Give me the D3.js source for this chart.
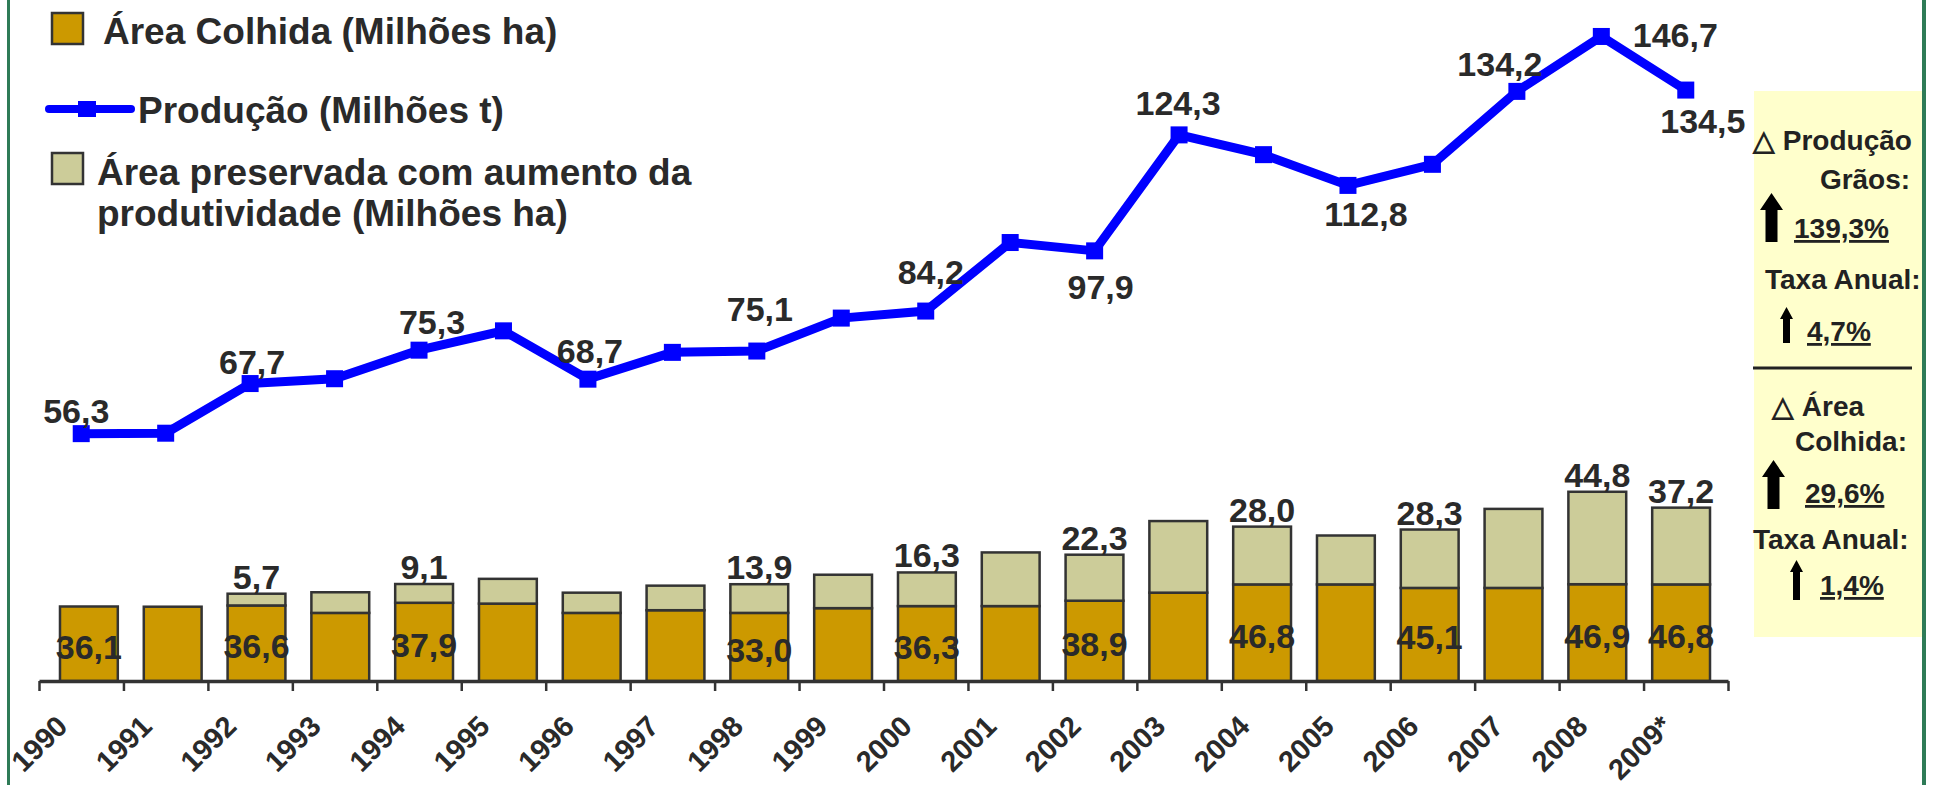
<!DOCTYPE html>
<html>
<head>
<meta charset="utf-8">
<script src="https://cdn.jsdelivr.net/npm/d3@7"></script>
<style>
  body { margin: 0; background: #fff; }
  svg { display: block; font-family: "Liberation Sans", Arial, sans-serif; font-weight: bold; }
</style>
</head>
<body>
<div id="chart"></div>
<script>
// valores
const years = ["1990", "1991", "1992", "1993", "1994", "1995", "1996", "1997", "1998", "1999",
    "2000", "2001", "2002", "2003", "2004", "2005", "2006", "2007", "2008", "2009*"];
const areaColhida = [36.1, 36.0, 36.6, 33.0, 37.9, 37.5, 33.0, 34.3, 33.0, 35.3,
    36.3, 36.3, 38.9, 42.8, 46.8, 46.8, 45.1, 45.1, 46.9, 46.8];
const areaPreservada = [0, 0, 5.7, 10.0, 9.1, 12.0, 9.8, 11.9, 13.9, 16.2,
    16.3, 26.0, 22.3, 34.7, 28.0, 23.7, 28.3, 38.3, 44.8, 37.2];
const producao = [56.3, 56.4, 67.7, 68.8, 75.3, 79.7, 68.7, 74.8, 75.1, 82.6,
    84.2, 99.8, 97.9, 124.3, 119.8, 112.8, 117.6, 134.2, 146.7, 134.5];

const legendLabels = ["Área Colhida (Milhões ha)", "Produção (Milhões t)",
    "Área preservada com aumento da", "produtividade (Milhões ha)"];

// quais pontos levam rótulo
const colhidaLabelIdx = [0, 2, 4, 8, 10, 12, 14, 16, 18, 19];
const preservadaLabelIdx = [2, 4, 8, 10, 12, 14, 16, 18, 19];
// deslocamento [dx, dy] dos rótulos da linha em relação ao ponto
const prodLabelOffset = {
    0: [-5, -11], 2: [2, -10], 4: [13, -16], 6: [2, -16], 8: [3, -30], 10: [5, -27],
    12: [6, 48], 13: [-1, -20], 15: [18, 41], 17: [-17, -15], 18: [74, 11], 19: [17, 43]
};

const width = 1948;
const height = 785;
const baseY = 681;
const textColor = "#2a2a2a";
const colhidaColor = "#cc9900";
const preservadaColor = "#cccc99";
const lineColor = "#0000ff";
const borderColor = "#2e7b57";

const locale = d3.formatLocale({ decimal: ",", thousands: ".", grouping: [3], currency: ["R$", ""] });
const fmt = locale.format(".1f");

const svg = d3.select("#chart")
    .append("svg")
    .attr("width", width)
    .attr("height", height);

// categorias (eixo e linha)
const x = d3.scaleBand()
    .domain(years)
    .range([39, 1728]);

// as barras ficam um pouco deslocadas em relação às marcas do eixo
const xBar = d3.scaleBand()
    .domain(years)
    .range([47, 1723])
    .paddingInner(0.31)
    .paddingOuter(0.155);

const xEdge = d3.scaleLinear()
    .domain([0, years.length])
    .range(x.range());

const yArea = d3.scaleLinear()
    .domain([0, 330])
    .range([baseY, 0]);

const yProd = d3.scaleLinear()
    .domain([0, 155])
    .range([baseY, 0]);

const cx = d => x(d) + x.bandwidth() / 2;
const bx = d => xBar(d) + xBar.bandwidth() / 2;

// barras empilhadas
const table = years.map((year, i) => ({ year: year, colhida: areaColhida[i], preservada: areaPreservada[i] }));
const stacked = d3.stack().keys(["colhida", "preservada"])(table);
const fills = { colhida: colhidaColor, preservada: preservadaColor };

svg.selectAll(".layer")
    .data(stacked)
    .enter()
    .append("g")
    .attr("class", "layer")
    .attr("fill", s => fills[s.key])
    .selectAll("rect")
    .data(s => s.filter(d => d[1] > d[0]))
    .enter()
    .append("rect")
    .attr("x", d => xBar(d.data.year))
    .attr("width", xBar.bandwidth())
    .attr("y", d => yArea(d[1]))
    .attr("height", d => yArea(d[0]) - yArea(d[1]))
    .attr("stroke", "#333")
    .attr("stroke-width", 2.5);

// eixo x
const axis = svg.append("g")
    .attr("transform", `translate(0,${baseY})`)
    .call(d3.axisBottom(xEdge)
        .tickValues(d3.range(years.length + 1))
        .tickSize(10)
        .tickSizeOuter(0)
        .tickFormat(""));
axis.select(".domain").attr("stroke", "#333").attr("stroke-width", 3.5);
axis.selectAll(".tick line").attr("stroke", "#333").attr("stroke-width", 2.5);

svg.append("g")
    .selectAll("text")
    .data(years)
    .enter()
    .append("text")
    .attr("transform", d => `translate(${cx(d) - 12},728) rotate(-45)`)
    .attr("text-anchor", "end")
    .attr("font-size", 29)
    .attr("fill", textColor)
    .text(d => d);

// rótulos das barras
svg.append("g")
    .selectAll("text")
    .data(colhidaLabelIdx)
    .enter()
    .append("text")
    .attr("x", i => bx(years[i]))
    .attr("y", i => (yArea(0) + yArea(areaColhida[i])) / 2 + 15)
    .attr("text-anchor", "middle")
    .attr("font-size", 34)
    .attr("fill", textColor)
    .text(i => fmt(areaColhida[i]));

svg.append("g")
    .selectAll("text")
    .data(preservadaLabelIdx)
    .enter()
    .append("text")
    .attr("x", i => bx(years[i]))
    .attr("y", i => yArea(areaColhida[i] + areaPreservada[i]) - 5)
    .attr("text-anchor", "middle")
    .attr("font-size", 34)
    .attr("fill", textColor)
    .text(i => fmt(areaPreservada[i]));

// linha de produção
const line = d3.line()
    .x((d, i) => cx(years[i]))
    .y(d => yProd(d));

svg.append("path")
    .datum(producao)
    .attr("d", line)
    .attr("fill", "none")
    .attr("stroke", lineColor)
    .attr("stroke-width", 9)
    .attr("stroke-linejoin", "miter");

svg.append("g")
    .selectAll("rect")
    .data(producao)
    .enter()
    .append("rect")
    .attr("x", (d, i) => cx(years[i]) - 8.5)
    .attr("y", d => yProd(d) - 8.5)
    .attr("width", 17)
    .attr("height", 17)
    .attr("fill", lineColor);

svg.append("g")
    .selectAll("text")
    .data(Object.keys(prodLabelOffset).map(Number))
    .enter()
    .append("text")
    .attr("x", i => cx(years[i]) + prodLabelOffset[i][0])
    .attr("y", i => yProd(producao[i]) + prodLabelOffset[i][1])
    .attr("text-anchor", "middle")
    .attr("font-size", 34)
    .attr("fill", textColor)
    .text(i => fmt(producao[i]));

// legenda
const legend = svg.append("g")
    .attr("font-size", 37)
    .attr("fill", textColor);

legend.append("rect")
    .attr("x", 52).attr("y", 13).attr("width", 31).attr("height", 31)
    .attr("fill", colhidaColor).attr("stroke", "#333").attr("stroke-width", 2.5);
legend.append("text").attr("x", 103).attr("y", 44).text(legendLabels[0]);

legend.append("line")
    .attr("x1", 49).attr("x2", 131).attr("y1", 109).attr("y2", 109)
    .attr("stroke", lineColor).attr("stroke-width", 8).attr("stroke-linecap", "round");
legend.append("rect")
    .attr("x", 78).attr("y", 101).attr("width", 18).attr("height", 16)
    .attr("fill", lineColor);
legend.append("text").attr("x", 138).attr("y", 123).text(legendLabels[1]);

legend.append("rect")
    .attr("x", 52).attr("y", 153).attr("width", 31).attr("height", 31)
    .attr("fill", preservadaColor).attr("stroke", "#333").attr("stroke-width", 2.5);
legend.append("text").attr("x", 97).attr("y", 185).text(legendLabels[2]);
legend.append("text").attr("x", 97).attr("y", 226).text(legendLabels[3]);

// quadro de variações
const box = svg.append("g")
    .attr("font-size", 28)
    .attr("fill", "#222");

box.append("rect")
    .attr("x", 1754).attr("y", 91).attr("width", 168).attr("height", 546)
    .attr("fill", "#ffffcc");

const boxTexts = [
    { t: "△ Produção", x: 1753, y: 150 },
    { t: "Grãos:", x: 1865, y: 189, anchor: "middle" },
    { t: "139,3%", x: 1794, y: 238, u: true },
    { t: "Taxa Anual:", x: 1765, y: 289 },
    { t: "4,7%", x: 1807, y: 341, u: true },
    { t: "△  Área", x: 1772, y: 416 },
    { t: "Colhida:", x: 1795, y: 451 },
    { t: "29,6%", x: 1805, y: 503, u: true },
    { t: "Taxa Anual:", x: 1753, y: 549 },
    { t: "1,4%", x: 1820, y: 595, u: true }
];

box.selectAll("text")
    .data(boxTexts)
    .enter()
    .append("text")
    .attr("x", d => d.x)
    .attr("y", d => d.y)
    .attr("text-anchor", d => d.anchor || "start")
    .style("text-decoration", d => d.u ? "underline" : null)
    .text(d => d.t);

box.append("line")
    .attr("x1", 1753).attr("x2", 1912).attr("y1", 368).attr("y2", 368)
    .attr("stroke", "#222").attr("stroke-width", 3);

function arrowPath(x0, y0, w, h, headH, shaftW) {
    const c = x0 + w / 2;
    return `M${c},${y0} L${x0 + w},${y0 + headH} L${c + shaftW / 2},${y0 + headH} L${c + shaftW / 2},${y0 + h}
        L${c - shaftW / 2},${y0 + h} L${c - shaftW / 2},${y0 + headH} L${x0},${y0 + headH} Z`;
}

const arrows = [
    [1760, 193, 23, 49, 17, 12],
    [1780, 307, 13, 36, 12, 7],
    [1762, 460, 23, 49, 17, 12],
    [1790, 560, 13, 40, 12, 7]
];

box.selectAll("path")
    .data(arrows)
    .enter()
    .append("path")
    .attr("d", a => arrowPath(...a))
    .attr("fill", "#000");

// bordas verdes
svg.append("rect").attr("x", 7).attr("y", 0).attr("width", 3).attr("height", height).attr("fill", borderColor);
svg.append("rect").attr("x", 1922).attr("y", 0).attr("width", 4).attr("height", height).attr("fill", borderColor);
</script>
</body>
</html>
